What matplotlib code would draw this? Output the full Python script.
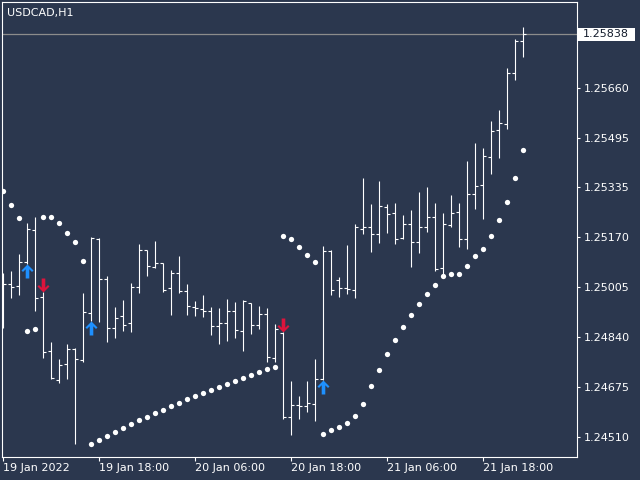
import numpy as np
import matplotlib
matplotlib.use('Agg')
import matplotlib.pyplot as plt
from matplotlib.path import Path
from matplotlib.patches import Rectangle

chart_title = "USDCAD,H1"

opens = [1.25021, 1.25014, 1.25007, 1.25086, 1.25192, 1.24972, 1.24794, 1.24698, 1.24750, 1.24800,
         1.24765, 1.24918, 1.25163, 1.25031, 1.24868, 1.24909, 1.24885, 1.25004, 1.25127, 1.25070,
         1.25084, 1.25000, 1.25050, 1.24992, 1.24938, 1.24931, 1.24925, 1.24875, 1.24885, 1.24925,
         1.24858, 1.24952, 1.24878, 1.24915, 1.24769, 1.24853, 1.24577, 1.24614, 1.24612, 1.24618,
         1.24700, 1.25122, 1.25028, 1.25000, 1.24995, 1.25197, 1.25203, 1.25178, 1.25269, 1.25248,
         1.25165, 1.25212, 1.25152, 1.25203, 1.25234, 1.25066, 1.25208, 1.25251, 1.25162, 1.25310,
         1.25340, 1.25434, 1.25522, 1.25541, 1.25709, 1.25816]
highs = [1.25051, 1.25057, 1.25112, 1.25215, 1.25234, 1.24987, 1.24824, 1.24767, 1.24816, 1.24802,
         1.24984, 1.25170, 1.25165, 1.25041, 1.24938, 1.24962, 1.25018, 1.25146, 1.25128, 1.25156,
         1.25084, 1.25061, 1.25107, 1.25014, 1.24959, 1.24978, 1.24940, 1.24934, 1.24965, 1.24954,
         1.24962, 1.24953, 1.24942, 1.24936, 1.24883, 1.24855, 1.24696, 1.24645, 1.24696, 1.24767,
         1.25140, 1.25127, 1.25039, 1.25143, 1.25212, 1.25363, 1.25278, 1.25354, 1.25277, 1.25281,
         1.25242, 1.25259, 1.25317, 1.25333, 1.25283, 1.25250, 1.25308, 1.25283, 1.25421, 1.25479,
         1.25464, 1.25552, 1.25588, 1.25726, 1.25823, 1.25863]
lows = [1.24870, 1.24969, 1.24978, 1.25082, 1.24925, 1.24771, 1.24700, 1.24689, 1.24702, 1.24486,
        1.24758, 1.24892, 1.24890, 1.24822, 1.24835, 1.24859, 1.24857, 1.24986, 1.25042, 1.25067,
        1.24989, 1.24912, 1.24984, 1.24912, 1.24910, 1.24905, 1.24846, 1.24817, 1.24827, 1.24835,
        1.24795, 1.24850, 1.24866, 1.24757, 1.24757, 1.24568, 1.24516, 1.24568, 1.24591, 1.24564,
        1.24698, 1.24978, 1.24973, 1.24982, 1.24969, 1.25179, 1.25121, 1.25151, 1.25182, 1.25145,
        1.25163, 1.25072, 1.25116, 1.25187, 1.25058, 1.25033, 1.25201, 1.25138, 1.25129, 1.25262,
        1.25229, 1.25377, 1.25431, 1.25527, 1.25687, 1.25764]
closes = [1.25014, 1.25005, 1.25088, 1.25195, 1.24967, 1.24790, 1.24703, 1.24746, 1.24799, 1.24766,
          1.24923, 1.25165, 1.25030, 1.24870, 1.24903, 1.24879, 1.25005, 1.25127, 1.25074, 1.25083,
          1.24995, 1.25050, 1.24992, 1.24942, 1.24935, 1.24925, 1.24875, 1.24885, 1.24925, 1.24863,
          1.24958, 1.24880, 1.24915, 1.24773, 1.24865, 1.24577, 1.24614, 1.24612, 1.24621, 1.24700,
          1.25122, 1.24995, 1.25000, 1.24998, 1.25201, 1.25203, 1.25178, 1.25272, 1.25244, 1.25162,
          1.25212, 1.25152, 1.25203, 1.25234, 1.25063, 1.25212, 1.25250, 1.25162, 1.25311, 1.25338,
          1.25437, 1.25519, 1.25544, 1.25709, 1.25816, 1.25838]
sar = [1.25321, 1.25274, 1.25231, 1.24858, 1.24865, 1.25234, 1.25234, 1.25215, 1.25182, 1.25152,
       1.25089, 1.24486, 1.24499, 1.24512, 1.24525, 1.24539, 1.24552, 1.24565, 1.24575, 1.24588,
       1.24598, 1.24611, 1.24621, 1.24634, 1.24644, 1.24654, 1.24664, 1.24674, 1.24684, 1.24694,
       1.24703, 1.24713, 1.24723, 1.24733, 1.24740, 1.25172, 1.25162, 1.25136, 1.25109, 1.25086,
       1.24519, 1.24532, 1.24542, 1.24555, 1.24578, 1.24618, 1.24677, 1.24730, 1.24783, 1.24829,
       1.24872, 1.24911, 1.24948, 1.24981, 1.25010, 1.25040, 1.25046, 1.25046, 1.25073, 1.25106,
       1.25129, 1.25172, 1.25225, 1.25284, 1.25363, 1.25455]
buy_bars = [3, 11, 40]
sell_bars = [5, 35]
time_label_bars = [0, 12, 24, 36, 48, 60]
time_labels = ["19 Jan 2022", "19 Jan 18:00", "20 Jan 06:00", "20 Jan 18:00",
               "21 Jan 06:00", "21 Jan 18:00"]
price_ticks = [1.25660, 1.25495, 1.25335, 1.25170, 1.25005, 1.24840, 1.24675, 1.24510]
price_tick_labels = ["1.25660", "1.25495", "1.25335", "1.25170", "1.25005",
                     "1.24840", "1.24675", "1.24510"]

BG = '#2b374e'
plt.rcParams['font.family'] = ['DejaVu Sans']

fig = plt.figure(figsize=(6.4, 4.8), dpi=100, facecolor=BG)
ax = fig.add_axes([2 / 640, 23 / 480, 575 / 640, 455 / 480])
ax.set_facecolor(BG)

x = np.arange(len(opens))
lw = 0.8
ax.vlines(x, lows, highs, color='white', lw=lw, zorder=3)
ax.hlines(opens, x - 0.32, x, color='white', lw=lw, zorder=3)
ax.hlines(closes, x, x + 0.32, color='white', lw=lw, zorder=3)

# parabolic SAR dots
ax.plot(x, sar, ls='none', marker='o', ms=3.8, mfc='white', mec='white', mew=0, zorder=4)

# arrows (tip at anchor point)
up_verts = [(0, 0), (6, -6), (4.5, -7.5), (1.8, -4.8), (1.8, -14), (-1.8, -14),
            (-1.8, -4.8), (-4.5, -7.5), (-6, -6), (0, 0)]
up_codes = [Path.MOVETO] + [Path.LINETO] * (len(up_verts) - 2) + [Path.CLOSEPOLY]
up_path = Path(up_verts, up_codes)
down_path = Path([(vx, -vy) for vx, vy in up_verts], up_codes)
ms_arrow = 2 * 14 * 0.72
ax.plot(buy_bars, [lows[i] for i in buy_bars], ls='none', marker=up_path, ms=ms_arrow,
        mfc='#1e90ff', mec='#1e90ff', mew=0, zorder=5)
ax.plot(sell_bars, [highs[i] for i in sell_bars], ls='none', marker=down_path, ms=ms_arrow,
        mfc='#dc143c', mec='#dc143c', mew=0, zorder=5)

# current price line
ax.axhline(closes[-1], color='#8c8c8c', lw=0.9, zorder=2)

ax.set_xlim(-0.125, 71.75)
ax.set_ylim(1.244439, 1.259445)

for s in ax.spines.values():
    s.set_color('white')
    s.set_linewidth(0.8)

ax.yaxis.tick_right()
ax.set_yticks(price_ticks)
ax.set_yticklabels(price_tick_labels)
ax.set_xticks(time_label_bars)
ax.set_xticklabels(time_labels)
for lbl in ax.get_xticklabels():
    lbl.set_ha('left')
ax.tick_params(axis='x', colors='white', length=3, width=0.8, pad=1.5, labelsize=8)
ax.tick_params(axis='y', colors='white', length=2.5, width=0.8, pad=2.5, labelsize=8)

# price label box
trans = ax.get_yaxis_transform()
box_h = 13.5 * (1.259445 - 1.244439) / 455
ax.add_patch(Rectangle((1.002, closes[-1] - box_h / 2), 57 / 575, box_h, transform=trans,
                       facecolor='white', edgecolor='none', clip_on=False, zorder=10))
ax.text(1.0 + 6 / 575, closes[-1], f"{closes[-1]:.5f}", transform=trans, ha='left', va='center',
        color='#141c2c', fontsize=8, zorder=11, clip_on=False)

ax.text(5 / 575, 1 - 11 / 455, chart_title, transform=ax.transAxes, ha='left', va='center',
        color='white', fontsize=8, zorder=6)

fig.savefig('out.png', dpi=100, facecolor=BG)
